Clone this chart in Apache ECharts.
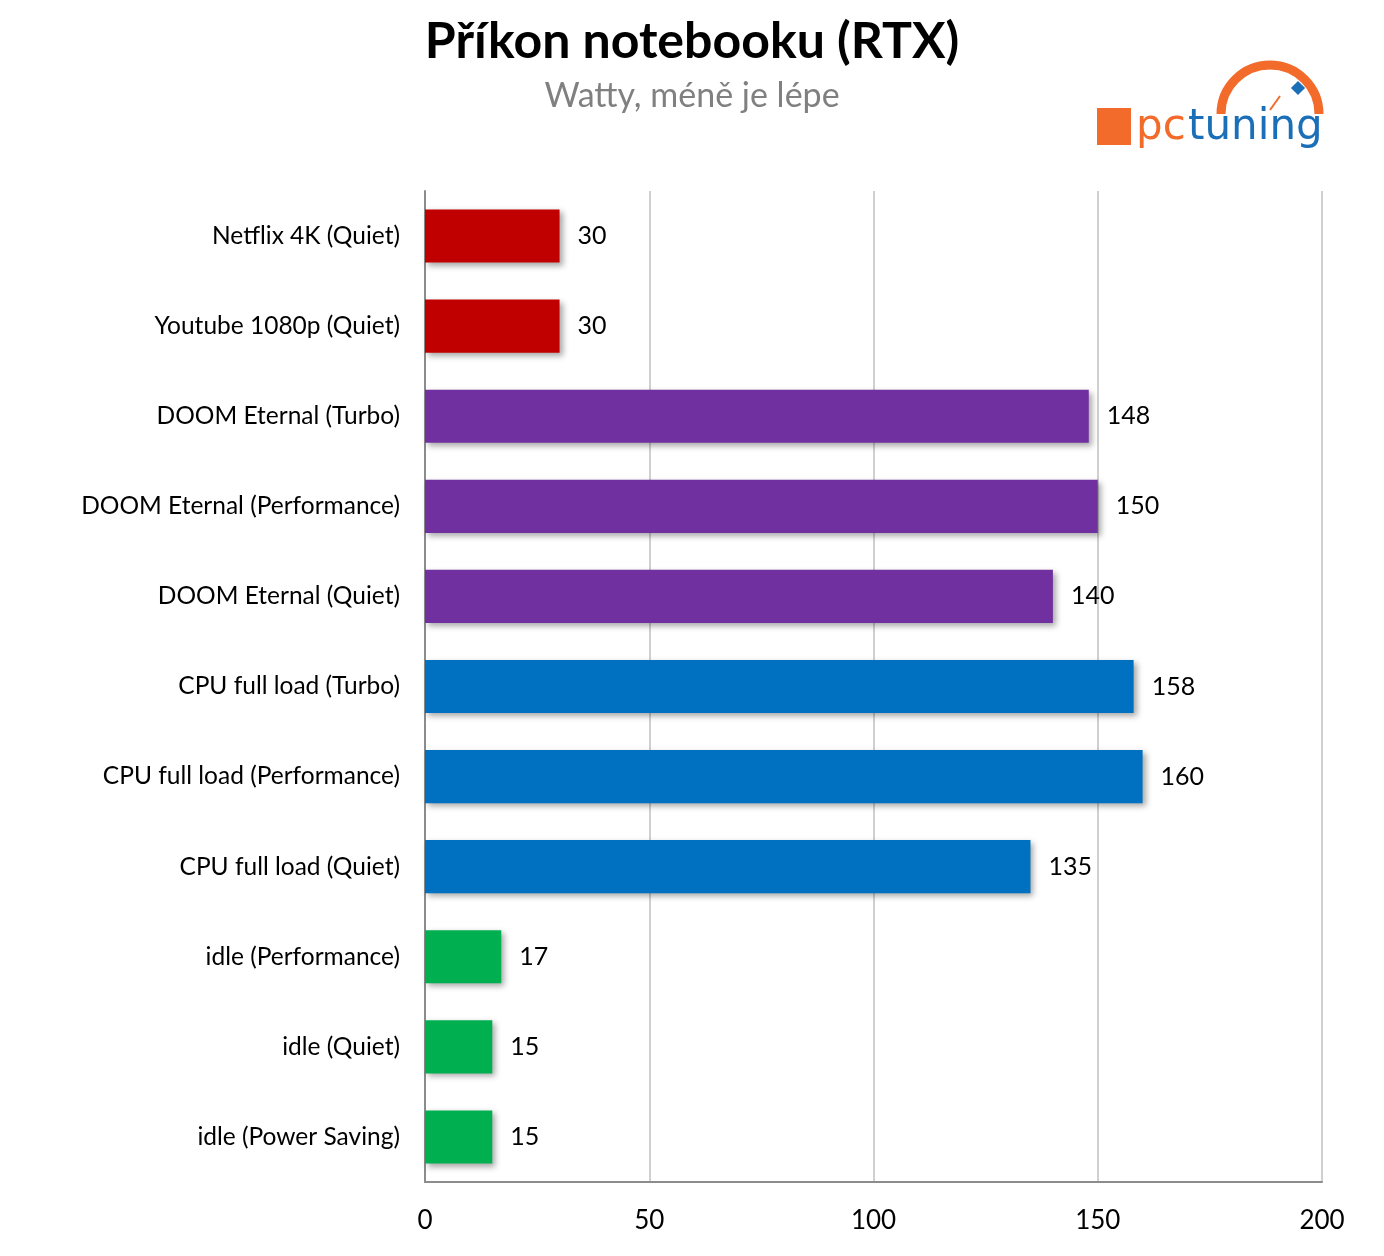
<!DOCTYPE html>
<html>
<head>
<meta charset="utf-8">
<script src="https://cdn.jsdelivr.net/npm/echarts@6/dist/echarts.min.js"></script>
<style>html,body{margin:0;padding:0;background:#fff}#c{width:1384px;height:1256px}</style>
</head>
<body>
<div id="c"></div>
<script>
const categories = ["Netflix 4K (Quiet)","Youtube 1080p (Quiet)","DOOM Eternal (Turbo)","DOOM Eternal (Performance)","DOOM Eternal (Quiet)","CPU full load (Turbo)","CPU full load (Performance)","CPU full load (Quiet)","idle (Performance)","idle (Quiet)","idle (Power Saving)"];
const values = [30,30,148,150,140,158,160,135,17,15,15];
const groups = ["video","video","game","game","game","cpu","cpu","cpu","idle","idle","idle"];
const xTicks = [0,50,100,150,200];

const groupColors = {video:"#C00000", game:"#7030A0", cpu:"#0070C0", idle:"#00B050"};
const FONT = "Lato, 'Open Sans', sans-serif";

const chart = echarts.init(document.getElementById('c'));
chart.setOption({
  animation:false,
  backgroundColor:'#fff',
  title:{
    text:'Příkon notebooku (RTX)',
    subtext:'Watty, méně je lépe',
    left:'center', top:12, itemGap:12,
    textStyle:{fontFamily:FONT, fontSize:50, fontWeight:'bold', color:'#000'},
    subtextStyle:{fontFamily:FONT, fontSize:34, color:'#808080'}
  },
  grid:{left:425, right:62, top:191, bottom:74, containLabel:false},
  xAxis:{
    type:'value', min:xTicks[0], max:xTicks[xTicks.length-1], interval:50,
    axisLine:{show:true, lineStyle:{color:'#8c8c8c', width:2}},
    axisTick:{show:false},
    splitLine:{show:true, lineStyle:{color:'#d0d0d0', width:2}},
    axisLabel:{fontFamily:FONT, fontSize:26, color:'#000', margin:26}
  },
  yAxis:{
    type:'category', data:categories, inverse:true,
    axisLine:{show:true, lineStyle:{color:'#8c8c8c', width:2}},
    axisTick:{show:false},
    axisLabel:{fontFamily:FONT, fontSize:24.5, color:'#000', margin:25}
  },
  series:[{
    type:'bar',
    data:values.map((v,i)=>({value:v, itemStyle:{color:groupColors[groups[i]]}})),
    barWidth:'59%',
    itemStyle:{shadowColor:'rgba(0,0,0,0.35)', shadowBlur:6, shadowOffsetX:3, shadowOffsetY:3},
    label:{show:true, position:'right', distance:18, fontFamily:FONT, fontSize:25, color:'#000'}
  }],
  graphic:[
    {type:'arc', shape:{cx:1270, cy:114, r:49, startAngle:Math.PI*1.0, endAngle:Math.PI*2.0}, style:{stroke:'#F26B2A', lineWidth:9, fill:null}},
    {type:'rect', shape:{x:1097, y:108, width:34, height:37}, style:{fill:'#F26B2A'}},
    {type:'text', x:1136, y:128, style:{text:'pc', fontFamily:'DejaVu Sans', fontSize:42, fill:'#F26B2A', textVerticalAlign:'middle'}},
    {type:'text', x:1188, y:128, style:{text:'tuning', fontFamily:'DejaVu Sans', fontSize:42, fill:'#1A6FB8', textVerticalAlign:'middle'}},
    {type:'rect', shape:{x:-5, y:-5, width:10, height:10}, x:1298, y:88, rotation:Math.PI/4, style:{fill:'#1A6FB8'}},
    {type:'line', shape:{x1:1270, y1:110, x2:1280, y2:96}, style:{stroke:'#F26B2A', lineWidth:2}}
  ]
});
</script>
</body>
</html>
